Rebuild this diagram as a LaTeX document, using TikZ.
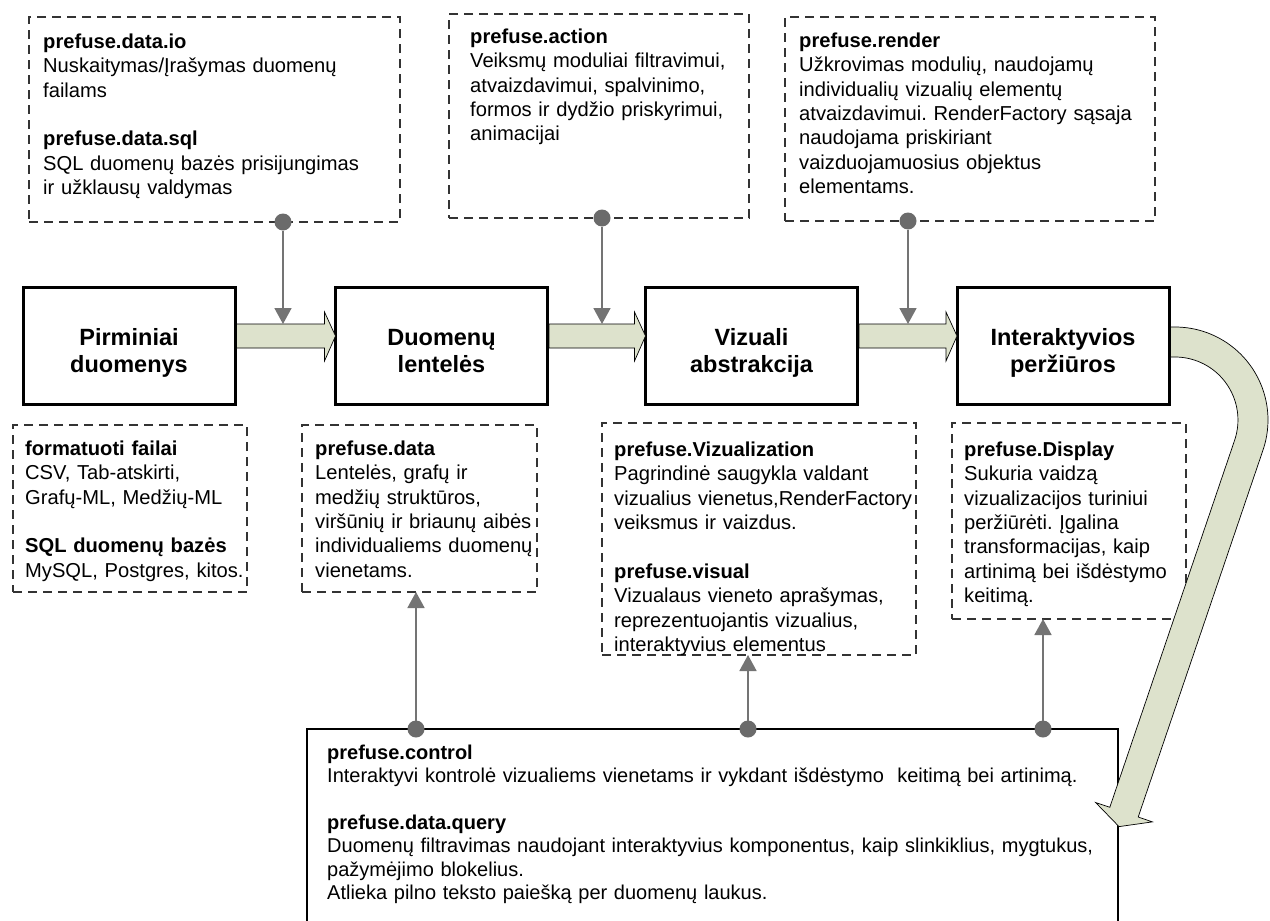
\documentclass[tikz,border=0pt]{standalone}
\usepackage{fontspec}
\setmainfont{Liberation Sans}
\usetikzlibrary{arrows.meta,calc}
\setlength{\parindent}{0pt}
\frenchspacing

\definecolor{flowfill}{RGB}{221,226,204}
\definecolor{linkgray}{RGB}{116,116,116}
\definecolor{dotgray}{RGB}{107,107,107}

% strut fixing the height of the first text line in the note boxes
\newcommand{\topstrut}{\rule{0pt}{15pt}}
\newcommand{\capstrut}{\rule{0pt}{17pt}}
\newcommand{\descstrut}{\rule[-5pt]{0pt}{5pt}}

\tikzset{
  mainbox/.style={draw=black, line width=3pt, minimum width=212pt, minimum height=117pt,
    inner sep=0pt, outer sep=0pt, fill=white},
  mainlabel/.style={align=center, inner sep=0pt,
    font=\fontsize{23.5}{27}\selectfont\bfseries},
  notebox/.style={draw=black!80, line width=1.2pt, dash pattern=on 9pt off 6pt,
    inner sep=0pt, outer sep=0pt, anchor=north west, fill=white},
  notetext/.style={anchor=north west, inner sep=0pt, text width=#1, align=left,
    font=\fontsize{20.15}{24.4}\selectfont},
  ctltext/.style={anchor=north west, inner sep=0pt, text width=#1, align=left,
    font=\fontsize{20.0}{23.4}\selectfont},
  ctlbox/.style={draw=black, line width=1.3pt, inner sep=0pt, outer sep=0pt,
    anchor=north west, fill=white},
  dotnode/.style={circle, fill=dotgray, minimum size=17pt, inner sep=0pt, outer sep=0pt},
  link/.style={draw=linkgray, line width=1.7pt, -{Triangle[width=17pt,length=16pt]}},
  flow/.style={fill=flowfill, draw=black, line width=0.7pt, line join=miter},
}

% straight block arrow from box #1 to box #2
\newcommand{\flowarrow}[2]{%
  \draw[flow] ($(#1.east)+(1.5,-21.5)$) -- ($(#2.west)+(-11,-21.5)$)
    -- ($(#2.west)+(-11,-33.5)$) -- ($(#2.west)+(0,-9.5)$)
    -- ($(#2.west)+(-11,15.5)$) -- ($(#2.west)+(-11,2.5)$)
    -- ($(#1.east)+(1.5,2.5)$) -- cycle;}

\begin{document}
\begin{tikzpicture}[x=1pt,y=-1pt]
\useasboundingbox (0,0) rectangle (1270,921);
\fill[white] (0,0) rectangle (1270,921);
\clip (0,0) rectangle (1270,921);

% main processing stages
\node[mainbox] (b1) at (129,345.5) {};
\node[mainbox] (b2) at (441.5,345.5) {};
\node[mainbox] (b3) at (751.5,345.5) {};
\node[mainbox] (b4) at (1063,345.5) {};
\node[mainlabel] (b1t) at ($(b1)+(0,7)$) {\capstrut Pirminiai\\duomenys\descstrut};
\node[mainlabel] (b2t) at ($(b2)+(0,7)$) {\capstrut Duomenų\\lentelės\descstrut};
\node[mainlabel] (b3t) at ($(b3)+(0,7)$) {\capstrut Vizuali\\abstrakcija\descstrut};
\node[mainlabel] (b4t) at ($(b4)+(0,7)$) {\capstrut Interaktyvios\\peržiūros\descstrut};

% upper package notes
\node[notebox, minimum width=371pt, minimum height=205pt] (t1) at (29,17) {};
\node[notetext=360pt] (t1txt) at (43,33) {\topstrut\textbf{prefuse.data.io}\\
Nuskaitymas/Įrašymas duomenų\\
failams\\
~\\
\textbf{prefuse.data.sql}\\
SQL duomenų bazės prisijungimas\\
ir užklausų valdymas};

\node[notebox, minimum width=300pt, minimum height=204pt] (t2) at (449,14) {};
\node[notetext=290pt] (t2txt) at (470,28) {\topstrut\textbf{prefuse.action}\\
Veiksmų moduliai filtravimui,\\
atvaizdavimui, spalvinimo,\\
formos ir dydžio priskyrimui,\\
animacijai};

\node[notebox, minimum width=370pt, minimum height=204pt] (t3) at (785,17) {};
\node[notetext=360pt] (t3txt) at (799,32) {\topstrut\textbf{prefuse.render}\\
Užkrovimas modulių, naudojamų\\
individualių vizualių elementų\\
atvaizdavimui. RenderFactory sąsaja\\
naudojama priskiriant\\
vaizduojamuosius objektus\\
elementams.};

% lower package notes
\node[notebox, minimum width=234pt, minimum height=167pt] (n1) at (13,425) {};
\node[notetext=240pt] (n1txt) at (25,440) {\topstrut\textbf{formatuoti failai}\\
CSV, Tab-atskirti,\\
Grafų-ML, Medžių-ML\\
~\\
\textbf{SQL duomenų bazės}\\
MySQL, Postgres, kitos.};

\node[notebox, minimum width=235pt, minimum height=167pt] (n2) at (302,425) {};
\node[notetext=240pt] (n2txt) at (315,440) {\topstrut\textbf{prefuse.data}\\
Lentelės, grafų ir\\
medžių struktūros,\\
viršūnių ir briaunų aibės\\
individualiems duomenų\\
vienetams.};

\node[notebox, minimum width=314pt, minimum height=232pt] (n3) at (602,423) {};
\node[notetext=320pt] (n3txt) at (614,441) {\topstrut\textbf{prefuse.Vizualization}\\
Pagrindinė saugykla valdant\\
vizualius vienetus,RenderFactory\\
veiksmus ir vaizdus.\\
~\\
\textbf{prefuse.visual}\\
Vizualaus vieneto aprašymas,\\
reprezentuojantis vizualius,\\
interaktyvius elementus};

\node[notebox, minimum width=234pt, minimum height=196pt] (n4) at (952,423) {};
\node[notetext=240pt] (n4txt) at (964,441) {\topstrut\textbf{prefuse.Display}\\
Sukuria vaidzą\\
vizualizacijos turiniui\\
peržiūrėti. Įgalina\\
transformacijas, kaip\\
artinimą bei išdėstymo\\
keitimą.};

% interaction package panel
\node[ctlbox, minimum width=811pt, minimum height=240pt] (ctl) at (307,729) {};
\node[ctltext=790pt] (ctltxt) at (327,744) {\topstrut\textbf{prefuse.control}\\
Interaktyvi kontrolė vizualiems vienetams ir vykdant išdėstymo\ \ keitimą bei artinimą.\\
~\\
\textbf{prefuse.data.query}\\
Duomenų filtravimas naudojant interaktyvius komponentus, kaip slinkiklius, mygtukus,\\
pažymėjimo blokelius.\\
Atlieka pilno teksto paiešką per duomenų laukus.};

% data flow between the stages
\flowarrow{b1}{b2}
\flowarrow{b2}{b3}
\flowarrow{b3}{b4}

% flow from the views down to the interaction panel
\draw[flow] ($(b4.east)+(1.5,-18.5)$) -- (1175,327)
  arc[start angle=-90, end angle=18.8, radius=93]
  -- (1138.2,817) -- (1152.4,821.9) -- (1119,826.6) -- (1095.6,802.5) -- (1109.8,807.3)
  -- (1234.6,440.3)
  arc[start angle=18.8, end angle=-90, radius=63]
  -- ($(b4.east)+(1.5,11.5)$) -- cycle;

% package links into the flow
\node[dotnode] (d1) at ($(t1.south west)+(254,0)$) {};
\node[dotnode] (d2) at ($(t2.south west)+(153,0)$) {};
\node[dotnode] (d3) at ($(t3.south west)+(123,0)$) {};
\coordinate (s1) at ($(d1 |- b1.east)+(0,-21.5)$);
\coordinate (s2) at ($(d2 |- b1.east)+(0,-21.5)$);
\coordinate (s3) at ($(d3 |- b1.east)+(0,-21.5)$);
\draw[link] (d1) -- (s1);
\draw[link] (d2) -- (s2);
\draw[link] (d3) -- (s3);

% links from the interaction panel up to the notes
\node[dotnode] (e1) at ($(ctl.north west)+(109,0)$) {};
\node[dotnode] (e2) at ($(ctl.north west)+(441,0)$) {};
\node[dotnode] (e3) at ($(ctl.north west)+(736,0)$) {};
\draw[link] (e1) -- (e1 |- n2.south);
\draw[link] (e2) -- (e2 |- n3.south);
\draw[link] (e3) -- (e3 |- n4.south);
\end{tikzpicture}
\end{document}
